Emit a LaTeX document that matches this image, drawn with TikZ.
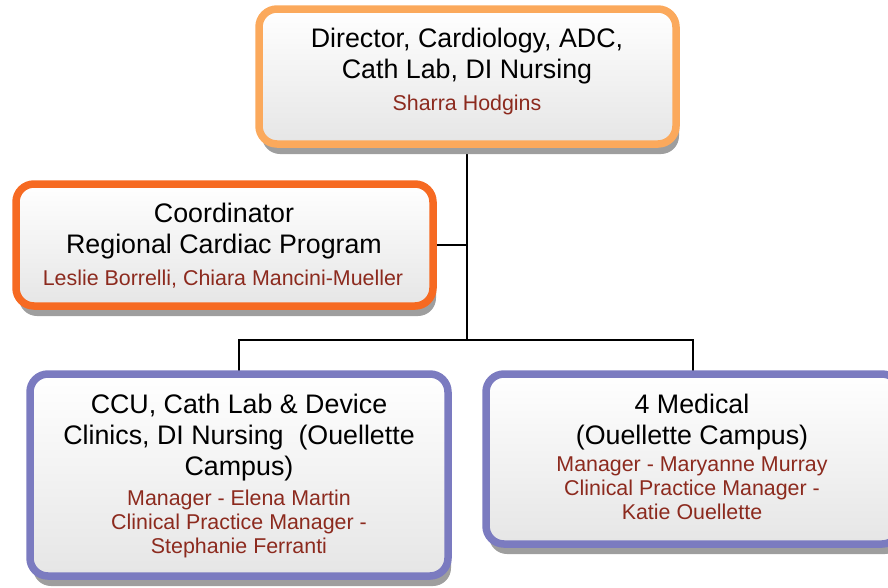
\documentclass[tikz,border=0pt]{standalone}
\usepackage{fontspec}
\setmainfont{Liberation Sans}
\usepackage{tikz}
\usetikzlibrary{shadows}
\usetikzlibrary{calc}

\definecolor{dirorange}{RGB}{251,169,92}
\definecolor{coordorange}{RGB}{246,106,34}
\definecolor{unitpurple}{RGB}{123,123,192}
\definecolor{namered}{RGB}{140,42,30}

\tikzset{
  orgbox/.style={rounded corners=18pt, line width=7.5pt, top color=white, bottom color=black!10,
    drop shadow={shadow xshift=3pt, shadow yshift=-10pt, fill=black!38, opacity=1},
    inner sep=0pt},
  titletext/.style={anchor=north, align=center, inner sep=0pt, font=\fontsize{26.8}{31}\selectfont},
  nametext/.style={anchor=north, align=center, inner sep=0pt, text=namered, font=\fontsize{21.4}{24}\selectfont},
  link/.style={line width=2pt, black}
}

\begin{document}
\begin{tikzpicture}[x=1pt,y=-1pt]
\useasboundingbox (0,0) rectangle (888,587);
\clip (0,0) rectangle (888,587);

% connectors first, boxes go over them
\coordinate (bus) at (467,340);
\coordinate (side) at (467,245);
\draw[link] (467,76.5) -- (bus);
\draw[link] (224.5,245) -- (side);
\draw[link] (239,475) |- (bus) -| (693,459);

% boxes
\node[orgbox, draw=dirorange, minimum width=417pt, minimum height=135pt] (dir) at (467.5,76.5) {};
\node[orgbox, draw=coordorange, minimum width=417pt, minimum height=122pt] (coord) at (224.5,245) {};
\node[orgbox, draw=unitpurple, minimum width=418pt, minimum height=202pt] (ccu) at (239,475) {};
\node[orgbox, draw=unitpurple, minimum width=414pt, minimum height=170pt] (med) at (693,459) {};

% texts
\node[titletext] (dirtitle) at (467,28) {Director, Cardiology, ADC,\\Cath Lab, DI Nursing};
\node[nametext] (dirnames) at (467,95) {Sharra Hodgins};

\node[titletext] (coordtitle) at (224,203) {Coordinator\\Regional Cardiac Program};
\node[nametext] (coordnames) at (223,270) {Leslie Borrelli, Chiara Mancini-Mueller};

\node[titletext] (ccutitle) at (239,394) {CCU, Cath Lab \& Device\\Clinics, DI Nursing\ \ (Ouellette\\Campus)};
\node[nametext] (ccunames) at (239,490) {Manager - Elena Martin\\Clinical Practice Manager -\\Stephanie Ferranti};

\node[titletext] (medtitle) at (692,394) {4 Medical\\(Ouellette Campus)};
\node[nametext] (mednames) at (692,457) {Manager - Maryanne Murray\\Clinical Practice Manager -\\Katie Ouellette};
\end{tikzpicture}
\end{document}
